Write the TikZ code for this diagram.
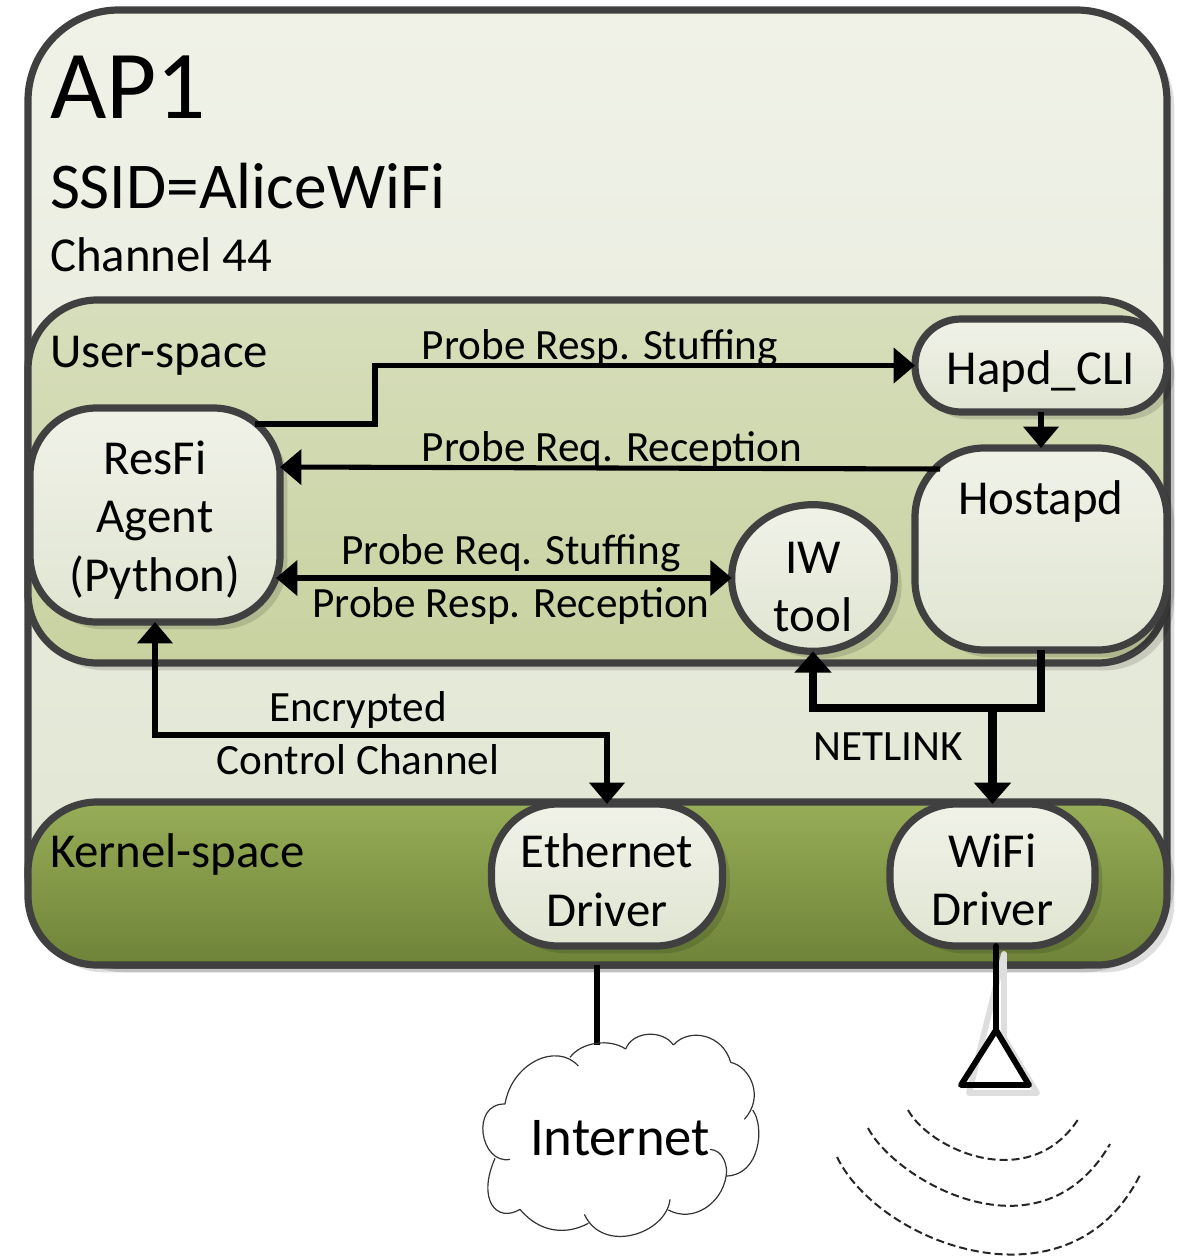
\documentclass[tikz,border=0pt]{standalone}
\usepackage{fontspec}
\setmainfont{Carlito}
\usetikzlibrary{arrows.meta,shadows,calc,shapes.geometric}
\definecolor{edgec}{HTML}{404040}
\definecolor{lightt}{HTML}{F0F2E8}
\definecolor{lightb}{HTML}{E0E5D2}
\definecolor{userT}{HTML}{D7DEBC}
\definecolor{userB}{HTML}{C8D2A0}
\definecolor{kernT}{HTML}{98AD57}
\definecolor{kernB}{HTML}{6E8338}
\tikzset{
  x=.75pt,y=-.75pt,
  softshadow/.style={general shadow={shadow xshift=5.5pt,shadow yshift=-5.5pt,fill=black,opacity=.13}},
  boxbase/.style={draw=edgec,line width=5.4pt,rectangle,inner sep=0pt,outer sep=0pt,align=center,softshadow},
  lightbox/.style={boxbase,top color=lightt,bottom color=lightb},
  boxtext/.style={inner sep=0pt,outer sep=0pt,align=center,font=\fontsize{36.6}{43.9}\selectfont},
  txt/.style={inner sep=0pt,outer sep=0pt,font=\fontsize{36.6}{44}\selectfont},
  lab/.style={inner sep=0pt,outer sep=0pt,font=\fontsize{32.4}{38}\selectfont},
  conn/.style={line width=3.8pt,-{Triangle[length=16pt,width=26pt]}},
  connb/.style={line width=3.8pt,{Triangle[length=16pt,width=26pt]}-{Triangle[length=16pt,width=26pt]}},
  thick line/.style={line width=5.4pt},
  wave/.style={line width=1.5pt,dash pattern=on 6pt off 3pt,color=black!85},
  cloudline/.style={line width=.9pt,color=black!80},
}
\begin{document}
\begin{tikzpicture}
\useasboundingbox (0,0) rectangle (1179,1257);
% containers
\node[boxbase,top color=lightt,bottom color=lightb,minimum width=854.25pt,minimum height=716.25pt,rounded corners=68pt] (ap) at (597.5,487.5) {};
\node[boxbase,top color=userT,bottom color=userB,minimum width=854.25pt,minimum height=272.25pt,rounded corners=52pt] (user) at (597.5,481.5) {};
\node[boxbase,top color=kernT,bottom color=kernB,minimum width=854.25pt,minimum height=122.25pt,rounded corners=52pt] (kernel) at (597.5,883.5) {};
% texts in containers
\node[txt,anchor=base west,font=\fontsize{73}{80}\selectfont] (aptitle) at (50,118) {AP1};
\node[txt,anchor=base west,font=\fontsize{49}{55}\selectfont] (ssid) at (50,208) {SSID=AliceWiFi};
\node[txt,anchor=base west] (chan) at (50,271) {Channel 44};
\node[txt,anchor=base west] (userlab) at (50,367) {User-space};
\node[txt,anchor=base west] (kernlab) at (50,867) {Kernel-space};
% inner nodes
\node[lightbox,minimum width=187.5pt,minimum height=160.5pt,rounded corners=50pt] (resfi) at (155,515) {};
\node[lightbox,minimum width=189pt,minimum height=69.75pt,rounded corners=34.5pt] (hapd) at (1041,365.5) {};
\node[lightbox,minimum width=189pt,minimum height=151.5pt,rounded corners=52pt] (hostapd) at (1041,549) {};
\node[lightbox,ellipse,minimum width=122pt,minimum height=110pt] (iw) at (813,578) {};
\node[lightbox,minimum width=173.25pt,minimum height=106.5pt,rounded corners=50pt] (eth) at (607,875) {};
\node[lightbox,minimum width=153.75pt,minimum height=106.5pt,rounded corners=50pt] (wifi) at (992.5,875) {};
\node[boxtext] (resfilab) at (155,520) {ResFi\\Agent\\(Python)};
\node[boxtext] (hapdlab) at (1041,371.5) {Hapd\_CLI};
\node[boxtext] (hostapdlab) at (1041,501) {Hostapd};
\node[boxtext] (iwlab) at (813,587) {IW\\tool};
\node[boxtext] (ethlab) at (607,880) {Ethernet\\Driver};
\node[boxtext] (wifilab) at (992.5,880) {WiFi\\Driver};
% helper coordinates
\coordinate (rtop) at (255,424);
\coordinate (rbend) at (375,424);
\coordinate (rbend2) at (375,365.5);
\coordinate (hstart) at (940,469);
\coordinate (rrecv) at (280,467);
\coordinate (junc) at (992.5,708);
\coordinate (hjunc) at (1041,708);
\coordinate (ijunc) at (813,708);
\coordinate (encl) at (155,735);
\coordinate (encr) at (607,735);
\coordinate (ebot) at (597,965);
\coordinate (wbot) at (996,946);
\coordinate (cloudtop) at (597,1045);
% connectors
\draw[conn] (rtop) -- (rbend) -- (rbend2) -- (hapd.west);
\draw[conn] (hstart) -- (rrecv);
\draw[connb,shorten <=-3pt] (resfi.east |- iw.west) -- (iw.west);
\draw[conn] (hapd.south) -- (hostapd.north);
\draw[thick line,-{Triangle[length=16pt,width=27pt]}] (hostapd.south) -- (hjunc) -- (ijunc) -- (iw.south);
\draw[line width=6.2pt,-{Triangle[length=16pt,width=27pt]}] (junc) -- (wifi.north);
\draw[connb] (resfi.south) -- (encl) -- (encr) -- (eth.north);
\draw[line width=4pt] (ebot) -- (cloudtop);
% labels
\node[lab] (l1) at (600,348) {Probe Resp. Stuffing};
\node[lab] (l2) at (612,450) {Probe Req. Reception};
\node[lab] (l3) at (511,553) {Probe Req. Stuffing};
\node[lab] (l4) at (511,606) {Probe Resp. Reception};
\node[lab] (l5) at (358,710) {Encrypted};
\node[lab] (l6) at (358,760) {Control Channel};
\node[lab] (l7) at (888,747) {NETLINK};
% antenna
\coordinate (tip) at (996,1030);
\coordinate (bl) at (961,1085);
\coordinate (br) at (1029,1085);
\draw[line width=4.4pt,black!13,line cap=round,line join=round] ($(wbot)+(8,8)$) -- ($(tip)+(8,8)$) -- ($(br)+(8,8)$) -- ($(bl)+(8,8)$) -- cycle;
\draw[line width=4.4pt,line join=round,line cap=round] (wbot) -- (tip) (tip) -- (br) -- (bl) -- cycle;
% waves
\draw[wave] (908,1110) .. controls (930,1150) and (1030,1195) .. (1079,1118);
\draw[wave] (868,1128) .. controls (895,1180) and (1040,1265) .. (1110,1144);
\draw[wave] (837,1157) .. controls (880,1245) and (1070,1315) .. (1140,1175);
% cloud
\begin{scope}[shift={(345pt,-750pt)},x=.25pt,y=-.25pt]
\draw[cloudline]
 (135,312) .. controls (155,190) and (290,125) .. (355,198)
 (330,172) .. controls (365,125) and (450,115) .. (497,147)
 (497,147) .. controls (520,90) and (610,90) .. (640,135)
 (640,135) .. controls (690,80) and (790,105) .. (812,187)
 (812,187) .. controls (870,200) and (915,290) .. (853,358)
 (878,330) .. controls (915,380) and (900,525) .. (800,528)
 (750,448) .. controls (790,450) and (805,500) .. (798,530)
 (798,530) .. controls (785,610) and (700,670) .. (625,630)
 (630,598) .. controls (620,700) and (430,765) .. (373,643)
 (385,670) .. controls (320,705) and (240,700) .. (180,628)
 (180,628) .. controls (110,670) and (50,600) .. (105,475)
 (150,478) .. controls (60,495) and (30,310) .. (135,312);
\end{scope}
\node[txt,font=\fontsize{41}{44}\selectfont] (inet) at (620,1138) {Internet};
\end{tikzpicture}
\end{document}
